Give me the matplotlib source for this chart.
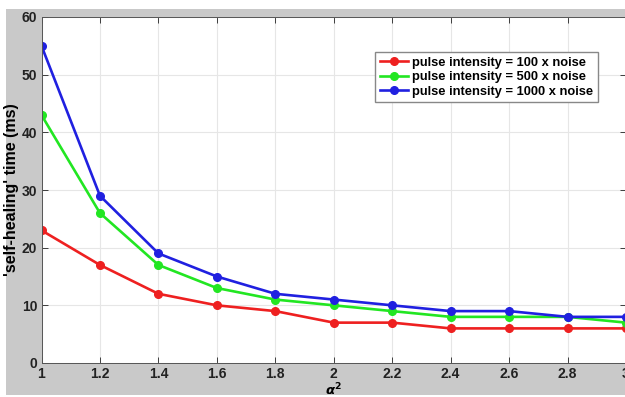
import matplotlib
matplotlib.use("Agg")
import matplotlib.pyplot as plt
from matplotlib.patches import Rectangle

# data
alpha2 = [1.0, 1.2, 1.4, 1.6, 1.8, 2.0, 2.2, 2.4, 2.6, 2.8, 3.0]
heal_100 = [23, 17, 12, 10, 9, 7, 7, 6, 6, 6, 6]
heal_500 = [43, 26, 17, 13, 11, 10, 9, 8, 8, 8, 7]
heal_1000 = [55, 29, 19, 15, 12, 11, 10, 9, 9, 8, 8]
labels = ["pulse intensity = 100 x noise",
          "pulse intensity = 500 x noise",
          "pulse intensity = 1000 x noise"]
colors = ["#ee2020", "#22e622", "#2020e0"]

xticks = [1, 1.2, 1.4, 1.6, 1.8, 2, 2.2, 2.4, 2.6, 2.8, 3]
xticklabels = ["1", "1.2", "1.4", "1.6", "1.8", "2", "2.2", "2.4", "2.6", "2.8", "3"]
yticks = [0, 10, 20, 30, 40, 50, 60]

plt.rcParams["font.family"] = ["Liberation Sans", "DejaVu Sans"]
plt.rcParams["font.weight"] = "bold"

fig = plt.figure(figsize=(6.25, 3.97), dpi=100)
fig.patch.set_facecolor("white")
# gray matlab-style figure background
fig.patches.append(Rectangle((6 / 625, 2 / 397), 1 - 6 / 625, 386 / 397,
                             transform=fig.transFigure, facecolor="#c9c9c9",
                             edgecolor="none", zorder=-5))

ax = fig.add_axes([41.5 / 625, 1 - 363 / 397, 584.5 / 625, 346 / 397])
ax.set_facecolor("white")

for ys, c, lab in zip([heal_100, heal_500, heal_1000], colors, labels):
    ax.plot(alpha2, ys, color=c, lw=1.9, marker="o", ms=5.5,
            markerfacecolor=c, markeredgecolor=c, label=lab)

ax.set_xlim(1, 3)
ax.set_ylim(0, 60)
ax.set_xticks(xticks)
ax.set_xticklabels(xticklabels)
ax.set_yticks(yticks)
ax.tick_params(direction="in", labelsize=10, length=4, width=0.6,
               top=True, right=True, colors="#222222", pad=3)
for lab in ax.get_xticklabels() + ax.get_yticklabels():
    lab.set_fontweight("bold")
ax.grid(True, color="#e6e6e6", lw=0.8)
ax.set_axisbelow(True)
for s in ax.spines.values():
    s.set_color("#555555")
    s.set_linewidth(0.7)

ax.set_xlabel(r"$\alpha^2$", fontsize=9.5, labelpad=0.5)
ax.set_ylabel("'self-healing' time (ms)", fontsize=11.5, fontweight="bold",
              labelpad=2)

leg = ax.legend(loc="upper left", bbox_to_anchor=(0.571, 0.899),
                fontsize=9.3, fancybox=False, edgecolor="#888888",
                framealpha=1, handlelength=2.2, handletextpad=0.3,
                labelspacing=0.2, borderpad=0.35, borderaxespad=0)
for t in leg.get_texts():
    t.set_fontweight("bold")

fig.savefig("out.png", dpi=100)
